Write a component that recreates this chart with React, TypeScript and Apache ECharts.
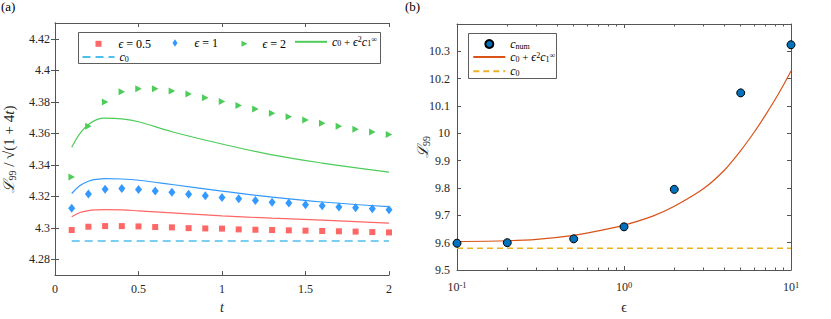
import React, { useEffect, useRef } from "react";
import * as echarts from "echarts";

// ---------- Panel (a) data ----------
const tSamples = [0.1, 0.2, 0.3, 0.4, 0.5, 0.6, 0.7, 0.8, 0.9, 1.0, 1.1, 1.2, 1.3, 1.4, 1.5, 1.6, 1.7, 1.8, 1.9, 2.0];
const numEps05 = [4.2986, 4.3007, 4.3011, 4.3011, 4.3009, 4.3005, 4.3003, 4.2998, 4.2996, 4.2995, 4.299, 4.2988, 4.2986, 4.2984, 4.2982, 4.298, 4.2978, 4.2976, 4.2973, 4.2971];
const numEps1 = [4.3125, 4.3215, 4.3245, 4.3249, 4.3243, 4.3234, 4.3226, 4.3213, 4.3203, 4.3192, 4.3184, 4.3174, 4.3163, 4.3157, 4.3146, 4.314, 4.3133, 4.3127, 4.3121, 4.3115];
const numEps2 = [4.3322, 4.3645, 4.3798, 4.3864, 4.3883, 4.3882, 4.3869, 4.385, 4.3825, 4.3801, 4.3776, 4.3754, 4.3728, 4.3705, 4.3684, 4.3663, 4.3644, 4.3625, 4.3609, 4.3592];
const tCurve = [0.1, 0.15, 0.2, 0.25, 0.3, 0.4, 0.5, 0.7, 1.0, 1.3, 1.6, 2.0];
const asymEps05 = [4.307, 4.3097, 4.3109, 4.3114, 4.3116, 4.3114, 4.3108, 4.3095, 4.3076, 4.3061, 4.3049, 4.303];
const asymEps1 = [4.3218, 4.3268, 4.3296, 4.3308, 4.3312, 4.331, 4.3302, 4.3275, 4.3233, 4.3195, 4.3164, 4.3135];
const asymEps2 = [4.3511, 4.36, 4.3656, 4.3687, 4.3696, 4.3691, 4.3673, 4.361, 4.3532, 4.3463, 4.3411, 4.3354];
const tC0 = [0.1, 2.0];
const c0A = [4.2917, 4.2917];
const yTicksA = [4.28, 4.3, 4.32, 4.34, 4.36, 4.38, 4.4, 4.42];

// ---------- Panel (b) data ----------
const epsNum = [0.1, 0.2, 0.5, 1, 2, 5, 10];
const cNum = [9.598, 9.6, 9.614, 9.658, 9.795, 10.148, 10.324];
const epsCurve = [0.1, 0.2, 0.3, 0.5, 0.7, 1, 1.5, 2, 3, 4, 5, 6, 7, 8, 9, 10];
const asymB = [9.604, 9.607, 9.612, 9.627, 9.643, 9.664, 9.698, 9.733, 9.798, 9.866, 9.937, 10.003, 10.065, 10.122, 10.176, 10.228];
const epsC0 = [0.1, 10];
const c0B = [9.58, 9.58];
const yTicksB = [9.5, 9.6, 9.7, 9.8, 9.9, 10, 10.1, 10.2, 10.3];
const minorTicksB = [0.2, 0.3, 0.4, 0.5, 0.6, 0.7, 0.8, 0.9, 2, 3, 4, 5, 6, 7, 8, 9];

const FONT = "Liberation Serif";
const AXIS = "#555555";
const TXT = "#262626";

const zip = (xs: number[], ys: number[]) => xs.map((x, i) => [x, ys[i]]);

const rich = {
  r: { fontFamily: FONT, fontSize: 12, color: "#000", lineHeight: 12 },
  i: { fontFamily: FONT, fontSize: 12, color: "#000", fontStyle: "italic", lineHeight: 12 },
  rs: { fontFamily: FONT, fontSize: 11, color: "#000", lineHeight: 12 },
  sub: { fontFamily: FONT, fontSize: 8, color: "#000", verticalAlign: "bottom", lineHeight: 6 },
  sup: { fontFamily: FONT, fontSize: 8, color: "#000", verticalAlign: "top", lineHeight: 6 },
  sp10: { width: 10 },
  sp12: { width: 12 },
};

const asymLabel = "{i|c}{sub|0}{rs| + }{i|ϵ}{sup|2}{i|c}{sub|1}{sup|∞}";
const c0Label = "{i|c}{sub|0}";

const legendTexts: Record<string, string> = {
  "ϵ = 0.5": "{sp12| }{i|ϵ}{r| = 0.5}",
  "ϵ = 1": "{sp12| }{i|ϵ}{r| = 1}",
  "ϵ = 2": "{sp10| }{i|ϵ}{r| = 2}",
  "asym-a": asymLabel,
  "c0-a": c0Label,
  "cnum": "{sp12| }{i|c}{sub|num}",
  "asym-b": asymLabel,
  "c0-b": c0Label,
};

const triangleRight = "path://M0,0L10,5L0,10Z";

function mkLegend(name: string, left: number, top: number, w: number, h: number, isLine = false) {
  const l: any = {
    data: [name],
    left,
    top,
    itemWidth: w,
    itemHeight: h,
    padding: 0,
    selectedMode: false,
    formatter: (n: string) => legendTexts[n] ?? n,
    textStyle: { fontFamily: FONT, fontSize: 12, color: "#000", rich },
  };
  if (isLine) l.itemStyle = { color: "rgba(0,0,0,0)", borderColor: "rgba(0,0,0,0)", borderWidth: 0 };
  return l;
}

const tickLabelStyle = { fontFamily: FONT, fontSize: 12, color: TXT };

export default function App() {
  const ref = useRef<HTMLDivElement>(null);

  useEffect(() => {
    if (!ref.current) return;
    const chart = echarts.init(ref.current, undefined, { renderer: "svg" });

    const lineAxis = { show: true, lineStyle: { color: AXIS, width: 1 } };

    const option: any = {
      animation: false,
      backgroundColor: "#fff",
      textStyle: { fontFamily: FONT },
      title: [
        { text: "(a)", left: 1, top: 0, padding: 0, textStyle: { fontFamily: FONT, fontSize: 13, fontWeight: "normal", color: "#000" } },
        { text: "(b)", left: 405, top: 0, padding: 0, textStyle: { fontFamily: FONT, fontSize: 13, fontWeight: "normal", color: "#000" } },
      ],
      grid: [
        { left: 55, top: 23, width: 334, height: 255, containLabel: false },
        { left: 457, top: 24, width: 334, height: 251, containLabel: false },
      ],
      xAxis: [
        {
          gridIndex: 0, type: "value", position: "bottom", min: 0, max: 2, interval: 0.5,
          axisLine: lineAxis,
          axisTick: { show: true, inside: true, length: 4, lineStyle: { color: AXIS } },
          axisLabel: { ...tickLabelStyle, margin: 8 },
          splitLine: { show: false },
          name: "t", nameLocation: "middle", nameGap: 22,
          nameTextStyle: { fontFamily: FONT, fontSize: 14, fontStyle: "italic", color: TXT },
        },
        {
          gridIndex: 0, type: "value", position: "top", min: 0, max: 2, interval: 0.5,
          axisLine: lineAxis,
          axisTick: { show: true, inside: true, length: 4, lineStyle: { color: AXIS } },
          axisLabel: { show: false }, splitLine: { show: false },
        },
        {
          gridIndex: 1, type: "log", logBase: 10, position: "bottom", min: 0.1, max: 10,
          axisLine: lineAxis,
          axisTick: { show: true, inside: true, length: 4, lineStyle: { color: AXIS } },
          axisLabel: {
            ...tickLabelStyle, margin: 10,
            formatter: (v: number) => `{b|10}{s|${Math.round(Math.log10(v))}}`,
            rich: {
              b: { fontFamily: FONT, fontSize: 12, color: TXT, lineHeight: 14 },
              s: { fontFamily: FONT, fontSize: 8.5, color: TXT, verticalAlign: "top", lineHeight: 8 },
            },
          },
          splitLine: { show: false }, minorTick: { show: false },
          name: "ϵ", nameLocation: "middle", nameGap: 30,
          nameTextStyle: { fontFamily: FONT, fontSize: 14, color: TXT },
        },
        {
          gridIndex: 1, type: "log", logBase: 10, position: "top", min: 0.1, max: 10,
          axisLine: lineAxis,
          axisTick: { show: true, inside: true, length: 4, lineStyle: { color: AXIS } },
          axisLabel: { show: false }, splitLine: { show: false },
        },
        {
          gridIndex: 1, type: "log", logBase: 10, position: "bottom", min: 0.1, max: 10,
          axisLine: { show: false },
          axisTick: { show: true, inside: true, length: 2.5, customValues: minorTicksB, lineStyle: { color: AXIS } },
          axisLabel: { show: false }, splitLine: { show: false },
        },
        {
          gridIndex: 1, type: "log", logBase: 10, position: "top", min: 0.1, max: 10,
          axisLine: { show: false },
          axisTick: { show: true, inside: true, length: 2.5, customValues: minorTicksB, lineStyle: { color: AXIS } },
          axisLabel: { show: false }, splitLine: { show: false },
        },
      ],
      yAxis: [
        {
          gridIndex: 0, type: "value", position: "left", min: 4.27, max: 4.43,
          axisLine: lineAxis,
          axisTick: { show: true, inside: true, length: 4, customValues: yTicksA, lineStyle: { color: AXIS } },
          axisLabel: { ...tickLabelStyle, margin: 5, customValues: yTicksA },
          splitLine: { show: false },
          name: "{i|ℒ}{sub|99}{r| / √(1 + 4}{i|t}{r|)}",
          nameLocation: "middle", nameGap: 38, nameRotate: 90, nameMoveOverlap: false,
          nameTextStyle: { fontFamily: FONT, fontSize: 15, color: TXT, rich: {
            i: { fontFamily: FONT, fontSize: 15, fontStyle: "italic", color: TXT, lineHeight: 16 },
            r: { fontFamily: FONT, fontSize: 15, color: TXT, lineHeight: 16 },
            sub: { fontFamily: FONT, fontSize: 10, color: TXT, verticalAlign: "bottom", lineHeight: 10 },
          } },
        },
        {
          gridIndex: 0, type: "value", position: "right", min: 4.27, max: 4.43,
          axisLine: lineAxis,
          axisTick: { show: true, inside: true, length: 4, customValues: yTicksA, lineStyle: { color: AXIS } },
          axisLabel: { show: false }, splitLine: { show: false },
        },
        {
          gridIndex: 1, type: "value", position: "left", min: 9.5, max: 10.4,
          axisLine: lineAxis,
          axisTick: { show: true, inside: true, length: 4, customValues: yTicksB, lineStyle: { color: AXIS } },
          axisLabel: { ...tickLabelStyle, margin: 7, customValues: yTicksB },
          splitLine: { show: false },
          name: "{i|ℒ}{sub|99}",
          nameLocation: "middle", nameGap: 26, nameRotate: 90, nameMoveOverlap: false,
          nameTextStyle: { fontFamily: FONT, fontSize: 15, color: TXT, rich: {
            i: { fontFamily: FONT, fontSize: 15, fontStyle: "italic", color: TXT, lineHeight: 16 },
            sub: { fontFamily: FONT, fontSize: 10, color: TXT, verticalAlign: "bottom", lineHeight: 10 },
          } },
        },
        {
          gridIndex: 1, type: "value", position: "right", min: 9.5, max: 10.4,
          axisLine: lineAxis,
          axisTick: { show: true, inside: true, length: 4, customValues: yTicksB, lineStyle: { color: AXIS } },
          axisLabel: { show: false }, splitLine: { show: false },
        },
      ],
      legend: [
        mkLegend("ϵ = 0.5", 95.5, 37.8, 6, 6),
        mkLegend("ϵ = 1", 172.5, 37, 5, 7.5),
        mkLegend("ϵ = 2", 241.5, 37.8, 6, 6),
        mkLegend("asym-a", 294, 35.8, 32, 10, true),
        mkLegend("c0-a", 81.5, 51, 32, 10, true),
        mkLegend("cnum", 484.3, 38, 8, 8),
        mkLegend("asym-b", 472.3, 51, 32, 10, true),
        mkLegend("c0-b", 472.3, 65.3, 32, 10, true),
      ],
      graphic: [
        { type: "rect", z: 3, shape: { x: 78.5, y: 32.5, width: 302, height: 31 }, style: { fill: "#fff", stroke: "#333", lineWidth: 0.8 } },
        { type: "rect", z: 3, shape: { x: 468.5, y: 33.5, width: 88, height: 45 }, style: { fill: "#fff", stroke: "#333", lineWidth: 0.8 } },
      ],
      series: [
        // panel (a)
        { name: "curve-05", type: "line", xAxisIndex: 0, yAxisIndex: 0, data: zip(tCurve, asymEps05), smooth: 0.4, symbol: "none", lineStyle: { color: "#ff6666", width: 1.2 }, itemStyle: { color: "#ff6666" }, z: 2 },
        { name: "curve-1", type: "line", xAxisIndex: 0, yAxisIndex: 0, data: zip(tCurve, asymEps1), smooth: 0.4, symbol: "none", lineStyle: { color: "#3399ff", width: 1.2 }, itemStyle: { color: "#3399ff" }, z: 2 },
        { name: "asym-a", type: "line", xAxisIndex: 0, yAxisIndex: 0, data: zip(tCurve, asymEps2), smooth: 0.4, symbol: "none", lineStyle: { color: "#4dcc59", width: 1.2 }, itemStyle: { color: "#4dcc59" }, z: 2 },
        { name: "c0-a", type: "line", xAxisIndex: 0, yAxisIndex: 0, data: zip(tC0, c0A), symbol: "none", lineStyle: { color: "#4dbeee", width: 1.5, type: [8, 5] }, itemStyle: { color: "#4dbeee" }, z: 2 },
        { name: "ϵ = 0.5", type: "scatter", xAxisIndex: 0, yAxisIndex: 0, data: zip(tSamples, numEps05), symbol: "rect", symbolSize: 6, itemStyle: { color: "#ff6666", opacity: 1 }, z: 3 },
        { name: "ϵ = 1", type: "scatter", xAxisIndex: 0, yAxisIndex: 0, data: zip(tSamples, numEps1), symbol: "diamond", symbolSize: [7, 9], itemStyle: { color: "#3399ff", opacity: 1 }, z: 3 },
        { name: "ϵ = 2", type: "scatter", xAxisIndex: 0, yAxisIndex: 0, data: zip(tSamples, numEps2), symbol: triangleRight, symbolSize: [6.5, 7], itemStyle: { color: "#4dcc59", opacity: 1 }, z: 3 },
        // panel (b)
        { name: "asym-b", type: "line", xAxisIndex: 2, yAxisIndex: 2, data: zip(epsCurve, asymB), smooth: 0.3, symbol: "none", lineStyle: { color: "#d95319", width: 1.2 }, itemStyle: { color: "#d95319" }, z: 2 },
        { name: "c0-b", type: "line", xAxisIndex: 2, yAxisIndex: 2, data: zip(epsC0, c0B), symbol: "none", lineStyle: { color: "#edb120", width: 1.5, type: [6, 4] }, itemStyle: { color: "#edb120" }, z: 2 },
        { name: "cnum", type: "scatter", xAxisIndex: 2, yAxisIndex: 2, data: zip(epsNum, cNum), symbol: "circle", symbolSize: 8, itemStyle: { color: "#0072bd", borderColor: "#000", borderWidth: 1, opacity: 1 }, z: 3 },
      ],
    };

    chart.setOption(option);
    return () => chart.dispose();
  }, []);

  return <div ref={ref} style={{ position: "fixed", left: 0, top: 0, width: 831, height: 319, background: "#fff" }} />;
}
